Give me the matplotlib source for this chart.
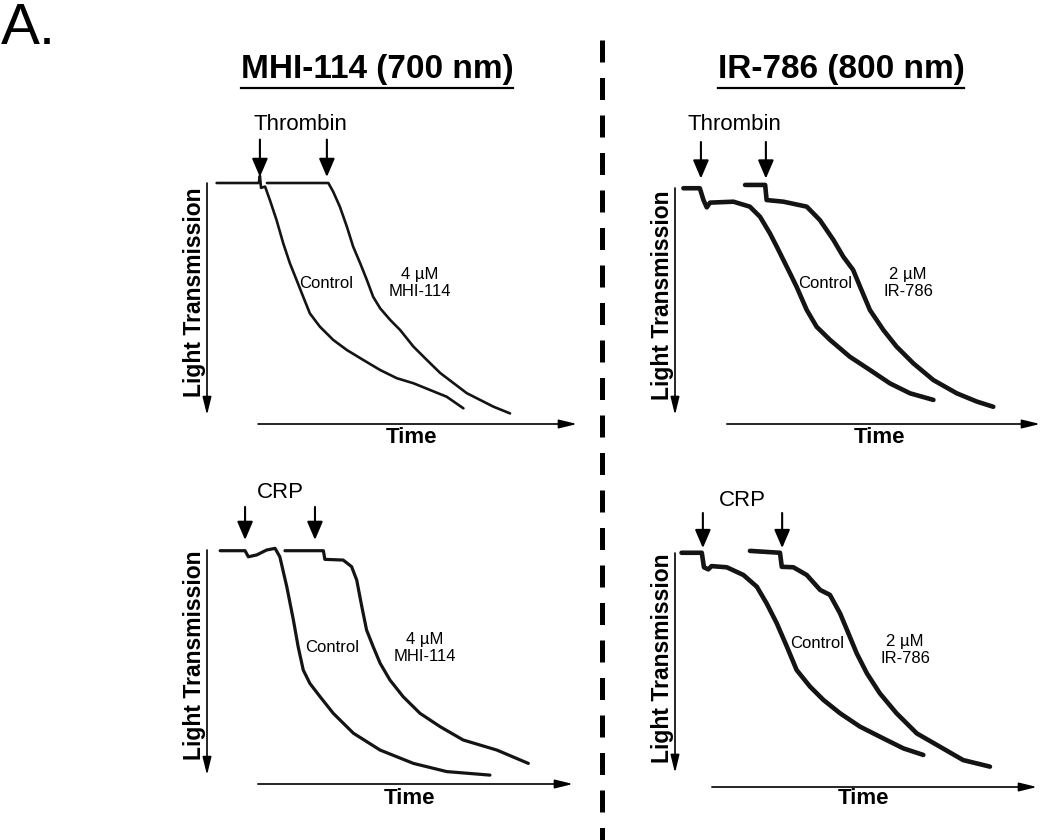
import numpy as np
import matplotlib
matplotlib.use("Agg")
import matplotlib.pyplot as plt
from matplotlib.lines import Line2D

plt.rcParams.update({
    "font.family": ["Liberation Sans", "DejaVu Sans"],
    "font.size": 12,
})

W, H = 1050, 840

# ---- traces, arbitrary units: time 0-100, light transmission 0-100 (100 = baseline)
# Thrombin, MHI-114 panel
thr_mhi_ctrl_t = [2.6, 14.0, 14.3, 14.6, 15.7, 17.0, 18.8, 20.6, 22.4, 24.2, 26.0, 27.8, 30.5,
                  34.1, 37.8, 42.2, 46.8, 51.3, 55.8, 60.3, 64.8, 69.3]
thr_mhi_ctrl_y = [100, 100, 103, 98, 98.5, 92.9, 84.6, 75.0, 66.7, 59.8, 52.8, 45.9, 40.4,
                  34.9, 30.7, 26.6, 22.4, 19.0, 16.9, 14.1, 11.3, 6.5]
thr_mhi_drug_t = [16.2, 32.8, 34.1, 35.9, 37.8, 39.5, 41.4, 43.2, 44.9, 46.8, 49.5, 52.2, 55.8,
                  59.4, 63.0, 66.6, 70.2, 73.8, 77.4, 81.9]
thr_mhi_drug_y = [100, 100, 96.4, 90.2, 81.9, 73.6, 66.7, 59.8, 52.8, 48.0, 43.2, 39.0, 32.1,
                  26.6, 21.2, 17.0, 12.8, 10.0, 7.2, 4.4]

# Thrombin, IR-786 panel
thr_ir_ctrl_t = [2.3, 6.8, 7.8, 8.7, 9.6, 16.0, 20.5, 23.3, 26.0, 27.9, 29.7, 31.5, 33.3, 36.1,
                 38.8, 42.5, 47.9, 53.4, 58.9, 64.4, 70.8]
thr_ir_ctrl_y = [99.9, 99.9, 94.9, 91.8, 93.8, 94.2, 92.1, 87.8, 80.8, 75.1, 69.5, 63.9, 58.2, 48.3,
                 41.2, 35.6, 28.5, 22.9, 17.2, 13.0, 10.2]
thr_ir_drug_t = [19.2, 24.7, 25.1, 29.7, 36.1, 39.7, 43.4, 46.1, 48.8, 50.7, 53.4, 57.1, 60.7,
                 65.3, 70.8, 77.2, 82.7, 87.2]
thr_ir_drug_y = [101.3, 101.3, 94.9, 94.2, 92.1, 86.4, 78.0, 70.9, 65.3, 58.2, 48.3, 39.8, 32.8,
                 25.7, 18.6, 13.0, 9.5, 7.3]

# CRP, MHI-114 panel
crp_mhi_ctrl_t = [3.6, 10.4, 11.3, 13.6, 16.3, 18.6, 19.9, 21.8, 23.6, 24.9, 26.3, 28.1, 30.9,
                  34.5, 40.0, 47.3, 56.4, 65.5, 77.3]
crp_mhi_ctrl_y = [99.7, 99.7, 97.1, 97.9, 100, 100.7, 97.1, 84.3, 70.1, 58.7, 48.7, 43.0, 37.3,
                  30.2, 21.7, 14.5, 8.8, 5.3, 3.8]
crp_mhi_drug_t = [21.3, 31.8, 32.2, 37.2, 39.5, 40.9, 42.3, 43.6, 45.4, 47.3, 50.0, 53.6, 58.2,
                  63.7, 70.0, 79.2, 87.8]
crp_mhi_drug_y = [99.7, 99.7, 96.0, 95.7, 92.9, 87.2, 75.8, 65.8, 58.7, 51.6, 44.4, 37.3, 30.2,
                  24.5, 18.8, 14.5, 8.8]

# CRP, IR-786 panel
crp_ir_ctrl_t = [1.8, 7.4, 8.0, 9.2, 10.1, 14.3, 18.9, 22.6, 25.3, 28.1, 30.9, 33.6, 37.3, 41.0,
                 45.6, 51.1, 57.5, 63.1, 68.6]
crp_ir_ctrl_y = [100.1, 100.1, 93.9, 93.0, 94.4, 93.9, 90.6, 85.6, 78.5, 70.0, 60.0, 50.0, 42.9,
                 37.2, 31.5, 25.8, 20.8, 16.5, 13.7]
crp_ir_drug_t = [20.7, 29.0, 29.5, 32.7, 36.4, 40.1, 42.8, 45.6, 48.3, 50.2, 53.0, 56.6, 61.2,
                 66.8, 73.2, 79.6, 87.0]
crp_ir_drug_y = [100.9, 100.1, 94.1, 93.9, 90.6, 84.2, 82.1, 74.2, 64.2, 57.1, 48.6, 40.0, 31.5,
                 22.9, 17.2, 11.5, 8.7]

# agonist addition times (arrows)
thr_mhi_add = [14.3, 32.4]
thr_ir_add = [7.1, 24.9]
crp_mhi_add = [10.4, 29.5]
crp_ir_add = [7.7, 29.6]

agonists = ["Thrombin", "Thrombin", "CRP", "CRP"]
drug_labels = ["4 µM\nMHI-114", "2 µM\nIR-786", "4 µM\nMHI-114", "2 µM\nIR-786"]
headers = ["MHI-114 (700 nm)", "IR-786 (800 nm)"]


def fxy(x, y):
    return x / W, 1 - y / H


fig = plt.figure(figsize=(W / 100, H / 100), dpi=100)

# layout in pixels: box (x0, y0, x1, y1), y-arrow end, x-arrow start, agonist arrow y range,
# trace width, agonist label pos, Time pos, LT pos, Control pos, drug label pos
panels = [
    dict(box=(207, 183, 577, 424), yend=3.7, xstart=13.8, arr=(118, 102.5), lw=1.9,
         ctrl=(thr_mhi_ctrl_t, thr_mhi_ctrl_y), drug=(thr_mhi_drug_t, thr_mhi_drug_y), add=thr_mhi_add,
         ag=(300, 125), time=(411, 437), lt=(195, 292), cl=(326, 283), dl=(420, 283)),
    dict(box=(675, 188, 1040, 424), yend=3.8, xstart=14.2, arr=(119.5, 104), lw=3.3,
         ctrl=(thr_ir_ctrl_t, thr_ir_ctrl_y), drug=(thr_ir_drug_t, thr_ir_drug_y), add=thr_ir_add,
         ag=(734, 125), time=(879, 437), lt=(663, 295), cl=(825, 283), dl=(908, 283)),
    dict(box=(207, 550, 573, 784), yend=3.8, xstart=13.9, arr=(118.4, 104.3), lw=2.3,
         ctrl=(crp_mhi_ctrl_t, crp_mhi_ctrl_y), drug=(crp_mhi_drug_t, crp_mhi_drug_y), add=crp_mhi_add,
         ag=(280, 493), time=(410, 799), lt=(195, 655), cl=(332, 647), dl=(425, 648)),
    dict(box=(675, 553, 1037, 787), yend=6.0, xstart=10.2, arr=(117.1, 102.1), lw=3.3,
         ctrl=(crp_ir_ctrl_t, crp_ir_ctrl_y), drug=(crp_ir_drug_t, crp_ir_drug_y), add=crp_ir_add,
         ag=(742, 501), time=(863, 799), lt=(663, 658), cl=(817, 643), dl=(905, 650)),
]

for i, p in enumerate(panels):
    x0, y0, x1, y1 = p["box"]
    ax = fig.add_axes([x0 / W, 1 - y1 / H, (x1 - x0) / W, (y1 - y0) / H])
    ax.set_xlim(0, 100)
    ax.set_ylim(0, 100)
    ax.axis("off")

    for t, y in (p["ctrl"], p["drug"]):
        ax.plot(t, y, color="#141414", lw=p["lw"], clip_on=False,
                solid_joinstyle="round", solid_capstyle="round")

    # axis arrows
    ax.annotate("", xy=(0, p["yend"]), xytext=(0, 100), xycoords="data",
                arrowprops=dict(arrowstyle="-|>,head_length=0.9,head_width=0.22",
                                mutation_scale=12, lw=1.2, color="black",
                                shrinkA=0, shrinkB=0), annotation_clip=False)
    ax.annotate("", xy=(100, 0), xytext=(p["xstart"], 0), xycoords="data",
                arrowprops=dict(arrowstyle="-|>,head_length=0.9,head_width=0.22",
                                mutation_scale=12, lw=1.2, color="black",
                                shrinkA=0, shrinkB=0), annotation_clip=False)

    # agonist addition arrows
    for a in p["add"]:
        ax.annotate("", xy=(a, p["arr"][1]), xytext=(a, p["arr"][0]),
                    arrowprops=dict(arrowstyle="-|>,head_length=0.7,head_width=0.3",
                                    mutation_scale=16, lw=1.5, color="black",
                                    shrinkA=0, shrinkB=0), annotation_clip=False)

    fig.text(*fxy(*p["ag"]), agonists[i], fontsize=16, ha="center", va="center")
    fig.text(*fxy(*p["time"]), "Time", fontsize=16, fontweight="bold", ha="center", va="center")
    fig.text(*fxy(*p["lt"]), "Light Transmission", fontsize=16.5, fontweight="bold",
             rotation=90, ha="center", va="center")
    fig.text(*fxy(*p["cl"]), "Control", fontsize=12, ha="center", va="center")
    fig.text(*fxy(*p["dl"]), drug_labels[i], fontsize=12, ha="center", va="center",
             multialignment="center", linespacing=1.15)

# dashed divider
fig.add_artist(Line2D([602 / W, 602 / W], [1 - 40 / H, 0], transform=fig.transFigure,
                      color="black", lw=3.6, linestyle=(0, (4.4, 3.1))))

# panel letter
fig.text(*fxy(1, 44), "A.", fontsize=42, ha="left", va="baseline",
         family=["Liberation Sans Narrow", "Liberation Sans"])

# column headers, underlined
hdr = []
for h, cx in zip(headers, [377, 841]):
    hdr.append(fig.text(*fxy(cx, 78), h, fontsize=24, fontweight="bold",
                        ha="center", va="baseline"))
fig.canvas.draw()
r = fig.canvas.get_renderer()
for t in hdr:
    bb = t.get_window_extent(r)
    yl = (bb.y0 - 3) / fig.bbox.height
    fig.add_artist(Line2D([bb.x0 / fig.bbox.width, bb.x1 / fig.bbox.width], [yl, yl],
                          transform=fig.transFigure, color="black", lw=1.6))

fig.savefig("out.png", dpi=100, facecolor="white")
